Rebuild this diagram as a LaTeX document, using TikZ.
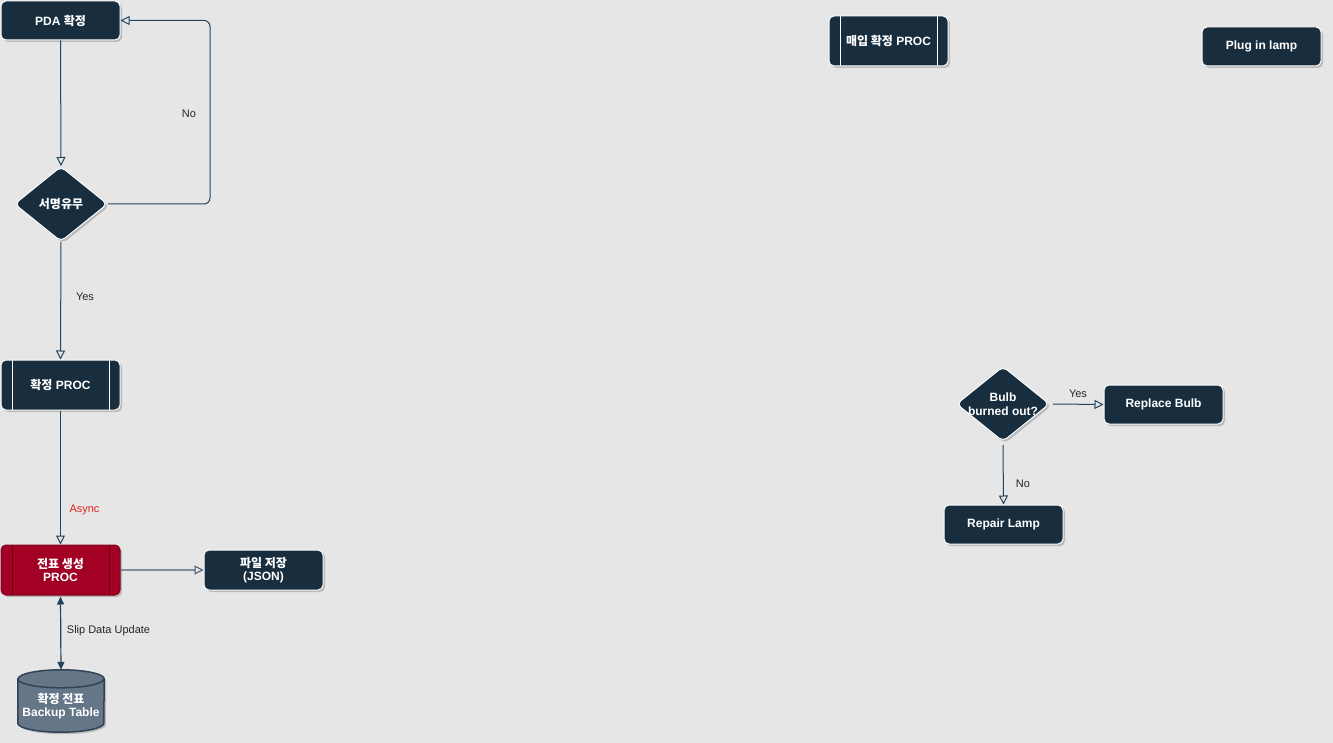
\documentclass[tikz,border=0pt]{standalone}
\usepackage{fontspec}
\setmainfont{Liberation Sans}
\newfontfamily\kr{Noto Sans CJK KR}
\usetikzlibrary{arrows.meta,shapes.geometric,shadows,calc}
\definecolor{bg}{HTML}{E6E6E6}
\definecolor{navy}{HTML}{182E3E}
\definecolor{edge}{HTML}{23445D}
\definecolor{lightedge}{HTML}{7D8FA0}
\definecolor{redfill}{HTML}{A20025}
\definecolor{redline}{HTML}{6F0000}
\definecolor{dbfill}{HTML}{647687}
\definecolor{dbline}{HTML}{314354}
\definecolor{asyncred}{HTML}{E0201E}
\tikzset{
  x=1pt, y=-1pt,
  shd/.style={drop shadow={shadow xshift=2pt,shadow yshift=-2pt,opacity=0.35,fill=black!60}},
  box/.style={shape=rectangle, rounded corners=5pt, fill=navy, draw=white, line width=1pt,
    text=white, font=\bfseries\fontsize{12}{13.5}\selectfont, align=center,
    minimum width=119pt, minimum height=39pt, inner sep=2pt, shd},
  proc/.style={box, minimum height=50pt,
    path picture={\draw[white,line width=1pt]
      ([xshift=11pt]path picture bounding box.north west) -- ([xshift=11pt]path picture bounding box.south west)
      ([xshift=-11pt]path picture bounding box.north east) -- ([xshift=-11pt]path picture bounding box.south east);}},
  redproc/.style={box, minimum height=50pt, fill=redfill, draw=redfill!80!black,
    path picture={\draw[redline,line width=1pt]
      ([xshift=11pt]path picture bounding box.north west) -- ([xshift=11pt]path picture bounding box.south west)
      ([xshift=-11pt]path picture bounding box.north east) -- ([xshift=-11pt]path picture bounding box.south east);}},
  dia/.style={shape=diamond, rounded corners=5pt, fill=navy, draw=white, line width=1pt,
    minimum width=93pt, minimum height=75pt, inner sep=0pt, shd},
  diatext/.style={text=white, font=\bfseries\fontsize{12}{13.5}\selectfont, align=center, inner sep=0pt},
  conn/.style={draw=edge, line width=1pt, -{Triangle[open,length=9pt,width=9pt]}},
  lbl/.style={font=\fontsize{11}{13}\selectfont, text=black!85, inner sep=1pt},
}
\begin{document}
\begin{tikzpicture}
\useasboundingbox[fill=bg] (0,0) rectangle (1333,743);

% left flow
\node[box] (pda) at (60.5,20.5) {PDA {\kr 확정}};
\node[dia] (sign) at (61,204) {};
\node[diatext] (signt) at (sign.center) {\kr 서명유무};
\node[proc] (conf) at (60.5,385) {{\kr 확정} PROC};
\node[redproc] (slip) at (60.5,570) {{\kr 전표 생성}\\PROC};
\node[box, minimum height=40pt] (json) at (263.5,570) {{\kr 파일 저장}\\(JSON)};
\node[minimum width=86pt, minimum height=62pt, inner sep=0pt] (db) at (61,701) {};
\fill[dbfill, shd] ([yshift=-9pt]db.north west) -- ([yshift=9pt]db.south west)
   arc[start angle=180,end angle=360,x radius=43pt,y radius=9pt]
   -- ([yshift=-9pt]db.north east)
   arc[start angle=0,end angle=180,x radius=43pt,y radius=9pt] -- cycle;
\draw[dbline, line width=1.5pt] ([yshift=-9pt]db.north west) -- ([yshift=9pt]db.south west)
   arc[start angle=180,end angle=360,x radius=43pt,y radius=9pt]
   -- ([yshift=-9pt]db.north east)
   arc[start angle=0,end angle=180,x radius=43pt,y radius=9pt] -- cycle
   ([yshift=-9pt]db.north west) arc[start angle=180,end angle=360,x radius=43pt,y radius=9pt];
\node[text=white, font=\bfseries\fontsize{12}{13.5}\selectfont, align=center, inner sep=0pt] (dbt) at ([yshift=-5pt]db.center) {{\kr 확정 전표}\\Backup Table};

\draw[conn] (pda.south) -- (sign.north);
\draw[conn, rounded corners=6pt] (sign.east) -- (210,204) -- (210,20.5) -- (pda.east);
\node[lbl] (lno1) at (189,114) {No};
\draw[conn] (sign.south) -- (conf.north);
\node[lbl] (lyes1) at (85,297) {Yes};
\draw[conn] (conf.south) -- (slip.north);
\node[lbl, text=asyncred] (lasync) at (84.5,510) {Async};
\draw[draw=lightedge, line width=1.8pt] (slip.east) -- ([xshift=-9pt]json.west);
\draw[conn, line width=1pt, draw=edge!70!lightedge] ([xshift=-10pt]json.west) -- (json.west);
\draw[draw=edge, line width=1.2pt, {Triangle[length=8pt,width=7pt]}-{Triangle[length=8pt,width=7pt]}] ([yshift=-1pt]slip.south) -- (db.north);
\node[lbl] (lslip) at (108.5,631) {Slip Data Update};

% right side
\node[proc] (buy) at (888.5,41) {{\kr 매입 확정} PROC};
\node[box] (plug) at (1261.5,46.5) {Plug in lamp};
\node[dia] (bulb) at (1003,404) {};
\node[diatext] (bulbt) at (bulb.center) {Bulb\\burned out?};
\node[box] (repl) at (1163.5,404.5) {Replace Bulb};
\node[box] (rep) at (1003.5,524.5) {Repair Lamp};
\draw[conn] ([xshift=3pt]bulb.east) -- (repl.west);
\node[lbl] (lyes2) at (1078,394) {Yes};
\draw[conn] ([yshift=-3pt]bulb.south) -- (rep.north);
\node[lbl] (lno2) at (1023,484) {No};
\end{tikzpicture}
\end{document}
